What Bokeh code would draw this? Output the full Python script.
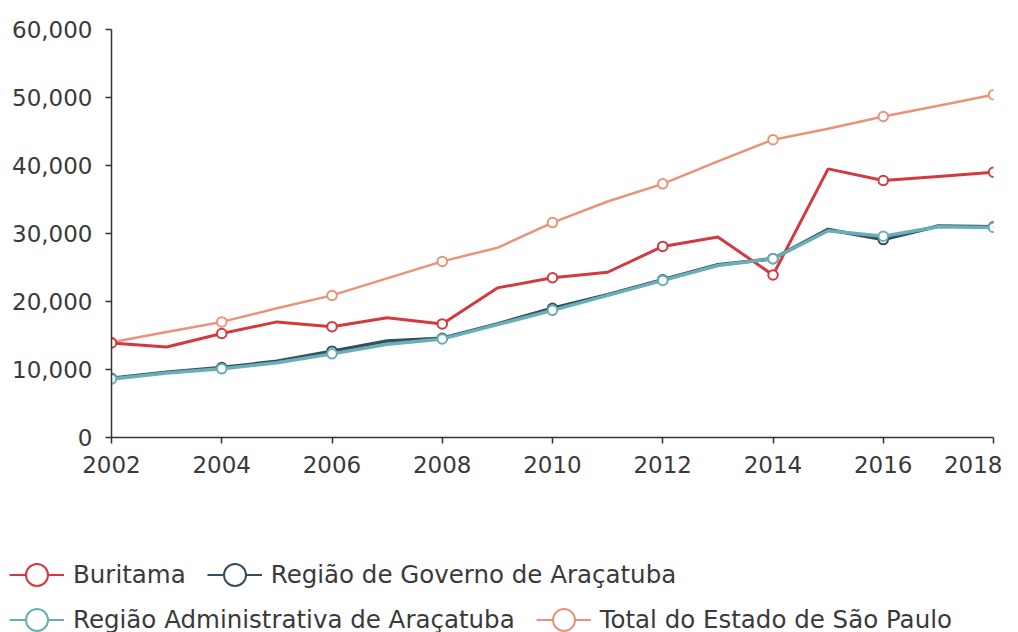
from bokeh.plotting import figure
from bokeh.layouts import column
from bokeh.models import Legend, LegendItem, NumeralTickFormatter, FixedTicker, Range1d
from bokeh.embed import file_html
from bokeh.resources import INLINE

years = list(range(2002, 2019))
buritama = [13900, 13300, 15300, 17000, 16300, 17600, 16700, 22000, 23500, 24300,
            28100, 29500, 23900, 39500, 37800, 38400, 39000]
governo = [8700, 9600, 10300, 11200, 12700, 14200, 14600, 16700, 19000, 21000,
           23200, 25400, 26300, 30600, 29100, 31100, 31000]
administrativa = [8600, 9500, 10100, 11000, 12300, 13700, 14500, 16600, 18700, 20900,
                  23100, 25300, 26300, 30400, 29600, 31000, 30900]
total_sp = [14000, 15500, 17000, 19000, 20900, 23400, 25900, 27900, 31600, 34700,
            37300, 40600, 43800, 45400, 47200, 48800, 50400]

names = ["Buritama", "Região de Governo de Araçatuba",
         "Região Administrativa de Araçatuba", "Total do Estado de São Paulo"]
colors = ["#d23a3f", "#34505f", "#6aaeb6", "#e8937a"]
widths = [3, 3.5, 3.5, 2.5]
series = [buritama, governo, administrativa, total_sp]
x_ticks = list(range(2002, 2019, 2))
y_ticks = [0, 10000, 20000, 30000, 40000, 50000, 60000]

FONT = "DejaVu Sans"
TXT = "#3a3a3a"

p = figure(width=1002, height=487, output_backend="svg", toolbar_location=None,
           x_range=Range1d(2002, 2018), y_range=Range1d(0, 60000),
           min_border_left=111, min_border_right=9, min_border_top=29,
           min_border_bottom=50)
p.frame_align = False
p.outline_line_color = None
p.xgrid.visible = False
p.ygrid.visible = False

for i in [3, 0, 1, 2]:
    vals = series[i]
    p.line(years, vals, line_color=colors[i], line_width=widths[i])
    mx = [y for y in years if (y - years[0]) % 2 == 0]
    my = [v for y, v in zip(years, vals) if (y - years[0]) % 2 == 0]
    p.scatter(mx, my, size=9.5, fill_color="white", line_color=colors[i], line_width=2)

for ax in (p.xaxis[0], p.yaxis[0]):
    ax.axis_line_color = "#333333"
    ax.axis_line_width = 1.5
    ax.major_tick_line_color = "#333333"
    ax.major_tick_line_width = 1.5
    ax.major_tick_in = 0
    ax.major_tick_out = 6
    ax.minor_tick_line_color = None
    ax.major_label_text_font = FONT
    ax.major_label_text_font_size = "23px"
    ax.major_label_text_color = TXT

p.xaxis.ticker = FixedTicker(ticks=x_ticks)
p.yaxis.ticker = FixedTicker(ticks=y_ticks)
p.yaxis.formatter = NumeralTickFormatter(format="0,0")
p.xaxis.major_label_standoff = 12
p.yaxis.major_label_standoff = 13

# legend strip below the chart
lf = figure(width=1002, height=145, output_backend="svg", toolbar_location=None,
            x_range=Range1d(0, 1), y_range=Range1d(0, 1),
            x_axis_location=None, y_axis_location=None,
            min_border_left=0, min_border_right=0, min_border_top=0, min_border_bottom=0)
lf.frame_align = False
lf.outline_line_color = None
lf.xgrid.visible = False
lf.ygrid.visible = False

proxies = {}
for i in range(4):
    ln = lf.line(x=[-5, -4], y=[-5, -5], line_color=colors[i], line_width=2)
    sc = lf.scatter(x=[-5], y=[-5], fill_color="white", line_color=colors[i], line_width=2)
    proxies[i] = [ln, sc]


def make_legend(idx, loc):
    items = [LegendItem(label=names[i], renderers=proxies[i]) for i in idx]
    return Legend(items=items, location=loc, orientation="horizontal",
                  glyph_width=55, glyph_height=55, label_standoff=9, spacing=21,
                  padding=0, margin=0, border_line_alpha=0, background_fill_alpha=0,
                  label_text_font=FONT, label_text_font_size="24.5px",
                  label_text_color=TXT)

lf.add_layout(make_legend([0, 1], (9, 30)), "center")
lf.add_layout(make_legend([2, 3], (9, -14.5)), "center")

layout = column(p, lf, spacing=0)
open("out.html", "w").write(file_html(layout, INLINE))
